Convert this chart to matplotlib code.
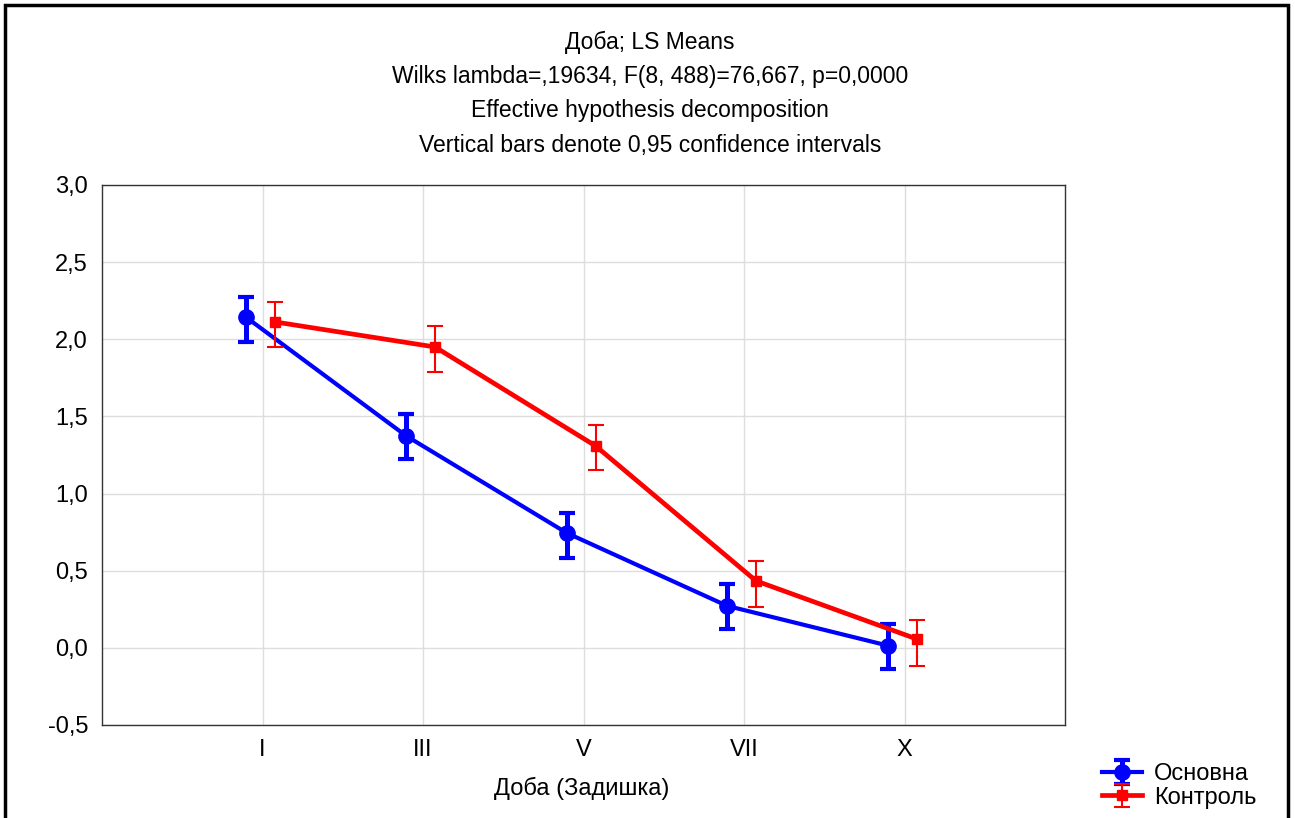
import matplotlib.pyplot as plt
import matplotlib.patches as patches
from matplotlib.ticker import FuncFormatter
import numpy as np

plt.rcParams['font.family'] = ['Liberation Sans', 'DejaVu Sans']

### Data ###
days = ["I", "III", "V", "VII", "X"]
main_mean = [2.145, 1.374, 0.745, 0.272, 0.015]
main_lo = [1.98, 1.225, 0.583, 0.123, -0.136]
main_hi = [2.275, 1.517, 0.875, 0.415, 0.156]
ctrl_mean = [2.113, 1.95, 1.309, 0.434, 0.058]
ctrl_lo = [1.95, 1.79, 1.154, 0.266, -0.117]
ctrl_hi = [2.24, 2.087, 1.445, 0.564, 0.181]
titles = ["Доба; LS Means",
          "Wilks lambda=,19634, F(8, 488)=76,667, p=0,0000",
          "Effective hypothesis decomposition",
          "Vertical bars denote 0,95 confidence intervals"]

fig = plt.figure(figsize=(12.95, 8.18), dpi=100)
ax = fig.add_axes([102/1295, 1 - 725/818, (1065 - 102)/1295, (725 - 185)/818])

x = np.arange(len(days))
main_mean = np.array(main_mean)
ctrl_mean = np.array(ctrl_mean)
main_err = [main_mean - np.array(main_lo), np.array(main_hi) - main_mean]
ctrl_err = [ctrl_mean - np.array(ctrl_lo), np.array(ctrl_hi) - ctrl_mean]

ax.errorbar(x - 0.105, main_mean, yerr=main_err, color='#0000ff', linewidth=3,
            marker='o', markersize=11, elinewidth=3.6, capsize=6, capthick=3,
            label='Основна', zorder=3)
ctrl = ax.errorbar(x + 0.075, ctrl_mean, yerr=ctrl_err, color='#ff0000', linewidth=3.4,
                   marker='s', markersize=7, elinewidth=1.5, capsize=6, capthick=1.5,
                   label='Контроль', zorder=4)
# caps of the control series look lighter in the original
for cap in ctrl[1]:
    cap.set_color('#ff6060')

ax.set_xlim(-1, 5)
ax.set_ylim(-0.5, 3.0)
ax.set_xticks(x)
ax.set_xticklabels(days)
ax.set_yticks(np.arange(-0.5, 3.01, 0.5))
ax.yaxis.set_major_formatter(FuncFormatter(lambda v, p: f"{v:.1f}".replace('.', ',')))
ax.tick_params(axis='both', labelsize=17, length=0, pad=10)
ax.grid(color='#dddddd', linewidth=1)
ax.set_axisbelow(True)
for s in ax.spines.values():
    s.set_linewidth(1)
    s.set_color('#333333')

fig.text(582/1295, 1 - 788/818, "Доба (Задишка)", fontsize=17, ha='center', va='center')

for i, t in enumerate(titles):
    fig.text(650/1295, 1 - (42 + i * 34.5)/818, t, fontsize=16.5, ha='center', va='center')

fig.legend(loc='center left', bbox_to_anchor=(1090/1295, 1 - 786/818), frameon=False,
           fontsize=17, handlelength=1.7, handletextpad=0.5, labelspacing=0.05,
           borderpad=0)

# outer frame
fig.patches.append(patches.Rectangle((5/1295, -0.01), 1283/1295, 1 - 5/818 + 0.01,
                                     transform=fig.transFigure, fill=False,
                                     edgecolor='black', linewidth=2.5))

fig.savefig('out.png', dpi=100)
